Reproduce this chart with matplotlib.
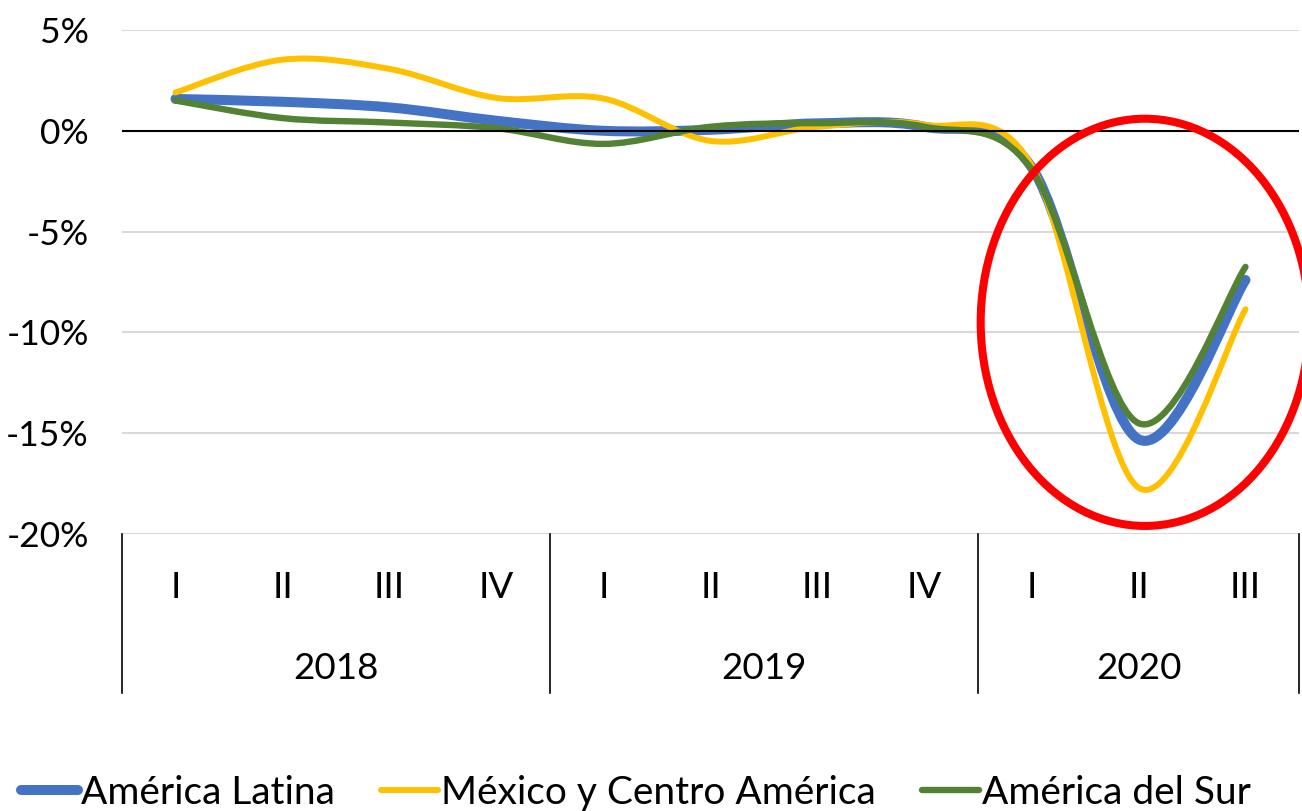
import numpy as np
import matplotlib.pyplot as plt
from matplotlib.path import Path
from matplotlib.patches import PathPatch, Ellipse
from matplotlib.lines import Line2D

plt.rcParams['font.family'] = ['Lato', 'DejaVu Sans']

quarters = ["I", "II", "III", "IV", "I", "II", "III", "IV", "I", "II", "III"]
years = ["2018", "2019", "2020"]
year_sizes = [4, 4, 3]

latina = [1.58, 1.44, 1.16, 0.5, 0.0, 0.05, 0.37, 0.2, -1.8, -15.3, -7.4]
mexico = [1.9, 3.53, 3.07, 1.63, 1.6, -0.5, 0.2, 0.3, -1.7, -17.7, -8.85]
sur = [1.5, 0.63, 0.41, 0.13, -0.65, 0.2, 0.38, 0.2, -1.9, -14.5, -6.75]

series = [
    ("América Latina", latina, "#4472C4", 7.2),
    ("México y Centro América", mexico, "#FFC000", 4.3),
    ("América del Sur", sur, "#548235", 4.6),
]


def smooth_path(x, y):
    # excel-like smoothed line: cubic bezier through every point
    pts = np.column_stack([x, y]).astype(float)
    n = len(pts)
    verts = [pts[0]]
    codes = [Path.MOVETO]
    for i in range(n - 1):
        p0 = pts[i - 1] if i > 0 else pts[i]
        p1 = pts[i]
        p2 = pts[i + 1]
        p3 = pts[i + 2] if i + 2 < n else pts[i + 1]
        c1 = p1 + (p2 - p0) / 6.0
        c2 = p2 - (p3 - p1) / 6.0
        verts += [c1, c2, p2]
        codes += [Path.CURVE4] * 3
    return Path(verts, codes)


fig = plt.figure(figsize=(13.02, 8.11), dpi=100)
ax = fig.add_axes([122 / 1302, 1 - 534 / 811, 1177 / 1302, 504 / 811])

x = np.arange(len(quarters))
for name, vals, color, lw in series:
    patch = PathPatch(smooth_path(x, vals), fill=False, edgecolor=color,
                      linewidth=lw, capstyle='round', joinstyle='round')
    ax.add_patch(patch)

ax.set_xlim(-0.5, len(quarters) - 0.5)
ax.set_ylim(-20, 5)
yt = [5, 0, -5, -10, -15, -20]
ax.set_yticks(yt)
ax.set_yticklabels([f"{v}%" for v in yt], fontsize=25.5)
ax.tick_params(axis='y', length=0, pad=24)
ax.set_xticks([])
for s in ax.spines.values():
    s.set_visible(False)
ax.grid(axis='y', color="#D9D9D9", linewidth=1.5)
ax.set_axisbelow(True)
ax.axhline(0, color="black", linewidth=1.5, zorder=1)

# multi-level category axis
tr = ax.get_xaxis_transform()
for i, q in enumerate(quarters):
    ax.text(i, -0.107, q, transform=tr, ha='center', va='center', fontsize=26.5)
edges = [-0.5]
for sz in year_sizes:
    edges.append(edges[-1] + sz)
for e in edges:
    ax.plot([e, e], [0, -0.315], transform=tr, color="black", linewidth=1.2,
            clip_on=False)
for k, yr in enumerate(years):
    mid = (edges[k] + edges[k + 1]) / 2
    ax.text(mid, -0.266, yr, transform=tr, ha='center', va='center', fontsize=26.5)

# red circle around 2020
ell = Ellipse((9.06, -9.5), 3.07, 20.2, fill=False, edgecolor="#FF0000",
              linewidth=5.8, clip_on=False, zorder=5)
ax.add_patch(ell)

handles = [Line2D([], [], color=c, linewidth=lw, solid_capstyle='round')
           for _, _, c, lw in series]
fig.legend(handles, [s[0] for s in series], loc='center',
           bbox_to_anchor=(636 / 1302, 1 - 793 / 811), ncol=3, frameon=False,
           fontsize=28, handlelength=1.45, handletextpad=0.08,
           columnspacing=1.2, borderpad=0)

fig.savefig("out.png", dpi=100)
